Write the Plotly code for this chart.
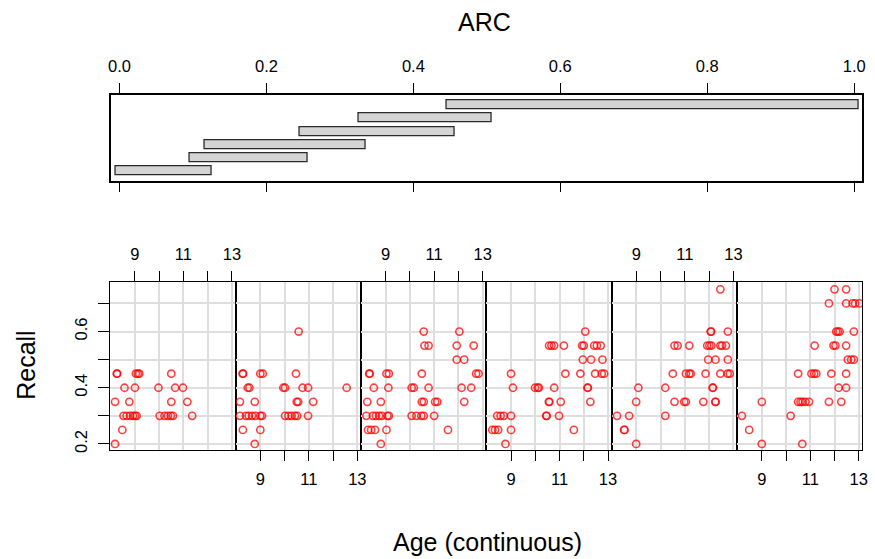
import plotly.graph_objects as go

# ---------------- data ----------------
# shingle (ARC) intervals, level 1 (bottom) .. level 6 (top)
arc_levels = [1, 2, 3, 4, 5, 6]
arc_lo = [-0.005, 0.096, 0.116, 0.245, 0.326, 0.445]
arc_hi = [0.126, 0.256, 0.335, 0.456, 0.506, 1.006]
arc_ticks = [0.0, 0.2, 0.4, 0.6, 0.8, 1.0]
arc_ticktext = ["0.0", "0.2", "0.4", "0.6", "0.8", "1.0"]

age_ticks = [9, 10, 11, 12, 13]
age_ticktext = ["9", "", "11", "", "13"]
recall_ticks = [0.2, 0.3, 0.4, 0.5, 0.6, 0.7]
recall_ticktext = ["0.2", "", "0.4", "", "0.6", ""]

panel1_age = [8.25, 8.27, 9.04, 9.12, 9.18, 10.50,
              8.57, 9.00, 9.97, 10.66, 10.98,
              8.18, 8.77, 10.50, 11.16,
              8.53, 8.66, 8.80, 8.92, 9.00, 9.07, 10.02, 10.22, 10.36, 10.48, 10.57, 11.36,
              8.48, 8.18]
panel1_recall = [0.45, 0.45, 0.45, 0.45, 0.45, 0.45,
                 0.40, 0.40, 0.40, 0.40, 0.40,
                 0.35, 0.35, 0.35, 0.35,
                 0.30, 0.30, 0.30, 0.30, 0.30, 0.30, 0.30, 0.30, 0.30, 0.30, 0.30, 0.30,
                 0.25, 0.20]

panel2_age = [10.58,
              8.27, 8.29, 9.00, 9.10, 10.47,
              8.48, 8.55, 9.95, 10.02, 10.74, 10.97, 12.56,
              8.16, 8.77, 10.50, 10.56, 11.18,
              8.16, 8.41, 8.52, 8.66, 8.80, 9.00, 9.07, 10.02, 10.16, 10.29, 10.43, 10.52, 10.97,
              8.28, 9.00, 8.77]
panel2_recall = [0.60,
                 0.45, 0.45, 0.45, 0.45, 0.45,
                 0.40, 0.40, 0.40, 0.40, 0.40, 0.40, 0.40,
                 0.35, 0.35, 0.35, 0.35, 0.35,
                 0.30, 0.30, 0.30, 0.30, 0.30, 0.30, 0.30, 0.30, 0.30, 0.30, 0.30, 0.30, 0.30,
                 0.25, 0.25, 0.20]

panel3_age = [10.57, 12.04,
              10.60, 10.77, 11.93, 12.63,
              11.93, 12.24,
              8.32, 8.34, 9.03, 9.13, 10.49, 12.73, 12.83,
              8.51, 9.11, 10.07, 10.16, 10.77, 12.13, 12.53,
              8.24, 8.80, 10.49, 10.57, 11.04, 11.13, 12.24,
              8.20, 8.47, 8.60, 8.73, 8.84, 9.07, 9.13, 10.07, 10.27, 10.47, 10.57, 11.00,
              8.27, 8.40, 8.56, 9.03, 11.57,
              8.80]
panel3_recall = [0.60, 0.60,
                 0.55, 0.55, 0.55, 0.55,
                 0.50, 0.50,
                 0.45, 0.45, 0.45, 0.45, 0.45, 0.45, 0.45,
                 0.40, 0.40, 0.40, 0.40, 0.40, 0.40, 0.40,
                 0.35, 0.35, 0.35, 0.35, 0.35, 0.35, 0.35,
                 0.30, 0.30, 0.30, 0.30, 0.30, 0.30, 0.30, 0.30, 0.30, 0.30, 0.30, 0.30,
                 0.25, 0.25, 0.25, 0.25, 0.25,
                 0.20]

panel4_age = [12.06,
              10.57, 10.67, 10.78, 11.18, 11.93, 12.00, 12.43, 12.54, 12.70,
              11.96, 12.30, 12.77,
              9.00, 11.24, 11.86, 12.47, 12.74, 12.84,
              9.08, 9.99, 10.10, 10.15, 10.78, 12.15, 12.17,
              10.56, 10.58, 11.05, 12.27,
              8.43, 8.57, 8.70, 9.00, 10.45, 10.47, 10.98,
              8.23, 8.34, 8.47, 9.00, 11.59,
              8.77]
panel4_recall = [0.60,
                 0.55, 0.55, 0.55, 0.55, 0.55, 0.55, 0.55, 0.55, 0.55,
                 0.50, 0.50, 0.50,
                 0.45, 0.45, 0.45, 0.45, 0.45, 0.45,
                 0.40, 0.40, 0.40, 0.40, 0.40, 0.40, 0.40,
                 0.35, 0.35, 0.35, 0.35,
                 0.30, 0.30, 0.30, 0.30, 0.30, 0.30, 0.30,
                 0.25, 0.25, 0.25, 0.25, 0.25,
                 0.20]

panel5_age = [12.46,
              12.06, 12.08, 12.77,
              10.57, 10.70, 11.18, 11.92, 12.01, 12.09, 12.46, 12.53, 12.69,
              11.96, 12.26, 12.77,
              10.50, 11.04, 11.18, 11.24, 11.85, 12.46, 12.76, 12.85,
              9.08, 10.19, 12.14, 12.16,
              8.99, 10.57, 10.97, 11.04, 11.76, 12.25, 12.27,
              8.20, 8.70, 10.19,
              8.49, 8.51,
              8.99]
panel5_recall = [0.75,
                 0.60, 0.60, 0.60,
                 0.55, 0.55, 0.55, 0.55, 0.55, 0.55, 0.55, 0.55, 0.55,
                 0.50, 0.50, 0.50,
                 0.45, 0.45, 0.45, 0.45, 0.45, 0.45, 0.45, 0.45,
                 0.40, 0.40, 0.40, 0.40,
                 0.35, 0.35, 0.35, 0.35, 0.35, 0.35, 0.35,
                 0.30, 0.30, 0.30,
                 0.25, 0.25,
                 0.20]

panel6_age = [12.00, 12.48,
              11.77, 12.48, 12.75, 12.85, 13.03,
              12.07, 12.14, 12.21, 12.80,
              11.18, 11.96, 12.04, 12.48,
              12.55, 12.69, 12.80,
              10.50, 11.05, 11.16, 11.25, 11.87, 12.48,
              12.17, 12.48,
              9.00, 10.50, 10.60, 10.68, 10.80, 10.95, 11.77, 12.28,
              8.18, 10.19,
              8.48,
              9.00, 10.67]
panel6_recall = [0.75, 0.75,
                 0.70, 0.70, 0.70, 0.70, 0.70,
                 0.60, 0.60, 0.60, 0.60,
                 0.55, 0.55, 0.55, 0.55,
                 0.50, 0.50, 0.50,
                 0.45, 0.45, 0.45, 0.45, 0.45, 0.45,
                 0.40, 0.40,
                 0.35, 0.35, 0.35, 0.35, 0.35, 0.35, 0.35, 0.35,
                 0.30, 0.30,
                 0.25,
                 0.20, 0.20]

# ---------------- figure ----------------
W, H = 875, 559
FONT = "Liberation Sans, Arial, Helvetica, sans-serif"
TICKFONT = dict(family=FONT, size=16.5, color="black")
LW = 1.2

panel_ages = [panel1_age, panel2_age, panel3_age, panel4_age, panel5_age, panel6_age]
panel_recalls = [panel1_recall, panel2_recall, panel3_recall, panel4_recall, panel5_recall, panel6_recall]

bounds = [108.3, 235.0, 361.7, 488.3, 615.0, 741.7, 868.3]
py_top, py_bot = 283.3, 452.3
ydom = [1 - py_bot / H, 1 - py_top / H]
age_range = [7.98, 13.15]
recall_range = [0.179, 0.777]

fig = go.Figure()
layout_axes = {}
for i in range(6):
    xa = "x" if i == 0 else f"x{i+1}"
    ya = "y" if i == 0 else f"y{i+1}"
    xk = "xaxis" if i == 0 else f"xaxis{i+1}"
    yk = "yaxis" if i == 0 else f"yaxis{i+1}"
    fig.add_trace(go.Scatter(
        x=panel_ages[i], y=panel_recalls[i], mode="markers",
        xaxis=xa, yaxis=ya, showlegend=False, hoverinfo="skip",
        marker=dict(symbol="circle-open", size=7.2, color="rgba(255,0,0,0.75)",
                    line=dict(width=1.6))))
    layout_axes[xk] = dict(
        domain=[bounds[i] / W, bounds[i + 1] / W], range=age_range, anchor=ya,
        side="top" if i % 2 == 0 else "bottom",
        tickmode="array", tickvals=age_ticks, ticktext=age_ticktext,
        ticks="outside", ticklen=10, tickwidth=1.3, tickcolor="black",
        ticklabelstandoff=4,
        showline=True, mirror=True, linecolor="black", linewidth=LW,
        showgrid=True, gridcolor="#dedede", gridwidth=1.5, zeroline=False,
        tickfont=TICKFONT, fixedrange=True)
    layout_axes[yk] = dict(
        domain=ydom, range=recall_range, anchor=xa,
        tickmode="array", tickvals=recall_ticks, ticktext=recall_ticktext,
        ticks="outside" if i == 0 else "", ticklen=11, tickwidth=1.3, tickcolor="black",
        showticklabels=(i == 0), tickangle=-90, ticklabelstandoff=4,
        showline=True, mirror=True, linecolor="black", linewidth=LW,
        showgrid=True, gridcolor="#dedede", gridwidth=1.5, zeroline=False,
        tickfont=TICKFONT, fixedrange=True)

# shingle panel
fig.add_trace(go.Bar(
    orientation="h", y=arc_levels,
    x=[h - l for l, h in zip(arc_lo, arc_hi)], base=arc_lo,
    width=0.67, xaxis="x7", yaxis="y7", showlegend=False, hoverinfo="skip",
    marker=dict(color="#d4d4d4", line=dict(color="#2a2a2a", width=1.3))))

layout_axes["xaxis7"] = dict(
    domain=[108.8 / W, 867.6 / W], range=[-0.012, 1.0102], anchor="y7", side="top",
    tickmode="array", tickvals=arc_ticks, ticktext=arc_ticktext,
    ticks="outside", ticklen=10, tickwidth=1.3, tickcolor="black",
    ticklabelstandoff=5,
    showline=True, mirror="ticks", linecolor="black", linewidth=LW + 0.3,
    showgrid=False, zeroline=False, tickfont=TICKFONT, fixedrange=True)
layout_axes["yaxis7"] = dict(
    domain=[1 - 181.7 / H, 1 - 95.7 / H], range=[0.27, 6.73], anchor="x7",
    showticklabels=False, ticks="", showline=True, mirror=True,
    linecolor="black", linewidth=LW + 0.3, showgrid=False, zeroline=False, fixedrange=True)

fig.update_layout(
    width=W, height=H, margin=dict(l=0, r=0, t=0, b=0),
    paper_bgcolor="white", plot_bgcolor="white",
    font=dict(family=FONT, color="black"),
    bargap=0, showlegend=False,
    **layout_axes)

annos = [
    dict(text="ARC", x=487 / W, y=1 - 22 / H, size=25, angle=0),
    dict(text="Recall", x=23 / W, y=1 - 367 / H, size=25, angle=-90),
    dict(text="Age (continuous)", x=490 / W, y=1 - 545 / H, size=25, angle=0),
]
for a in annos:
    fig.add_annotation(text=a["text"], x=a["x"], y=a["y"], xref="paper", yref="paper",
                       xanchor="center", yanchor="middle", showarrow=False,
                       textangle=a["angle"], font=dict(family=FONT, size=a["size"], color="black"))

fig.write_html("out.html", config={"responsive": False, "displayModeBar": False},
               post_script="document.body.style.margin='0px';document.body.style.overflow='hidden';")
